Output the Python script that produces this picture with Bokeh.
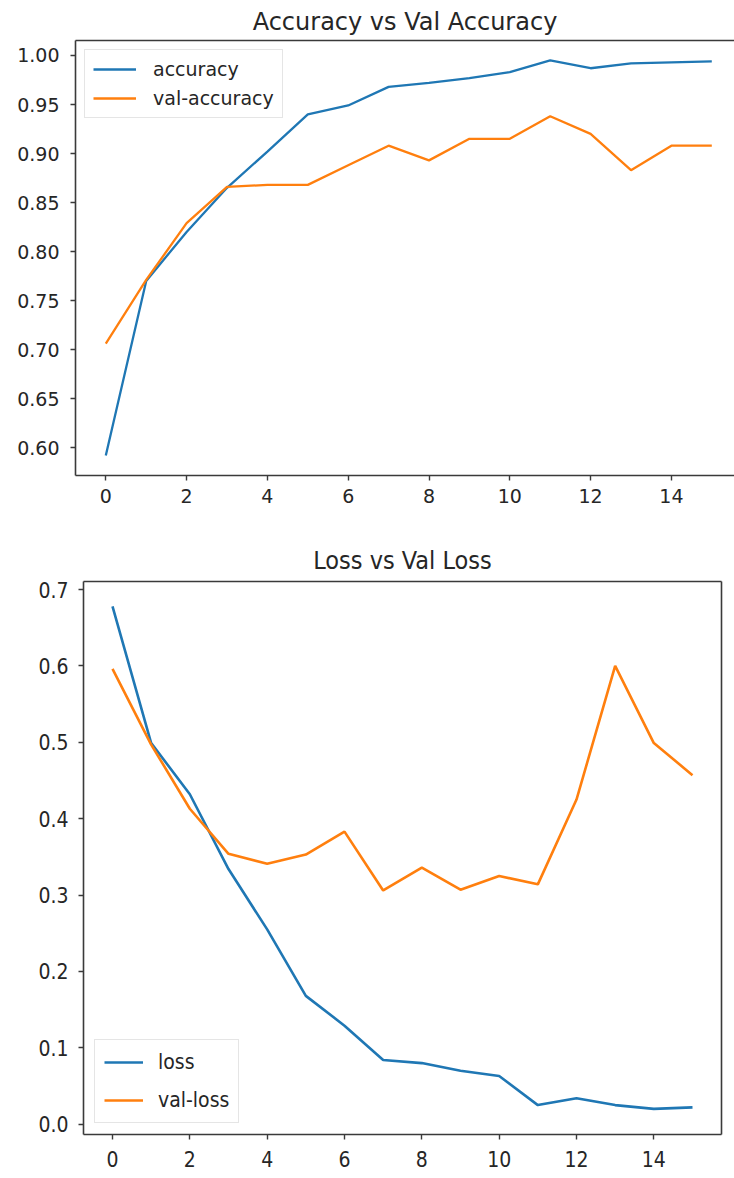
from bokeh.plotting import figure
from bokeh.models import (LinearAxis, FixedTicker, Range1d, Legend, LegendItem,
                          PrintfTickFormatter)
from bokeh.embed import file_html
from bokeh.resources import INLINE

# ---------------- data ----------------
epochs = list(range(16))
accuracy = [0.592, 0.770, 0.820, 0.865, 0.902, 0.940, 0.949, 0.968,
            0.972, 0.977, 0.983, 0.995, 0.987, 0.992, 0.993, 0.994]
val_accuracy = [0.706, 0.771, 0.829, 0.866, 0.868, 0.868, 0.888, 0.908,
                0.893, 0.915, 0.915, 0.938, 0.920, 0.883, 0.908, 0.908]
loss = [0.678, 0.499, 0.432, 0.334, 0.255, 0.168, 0.129, 0.084,
        0.080, 0.070, 0.063, 0.025, 0.034, 0.025, 0.020, 0.022]
val_loss = [0.596, 0.497, 0.413, 0.354, 0.341, 0.353, 0.383, 0.306,
            0.336, 0.307, 0.325, 0.314, 0.425, 0.600, 0.499, 0.457]

x_ticks = [0, 2, 4, 6, 8, 10, 12, 14]
acc_y_ticks = [0.60, 0.65, 0.70, 0.75, 0.80, 0.85, 0.90, 0.95, 1.00]
loss_y_ticks = [0.0, 0.1, 0.2, 0.3, 0.4, 0.5, 0.6, 0.7]

BLUE = "#1f77b4"
ORANGE = "#ff7f0e"
SPINE = "#3a3a3a"
TXT = "#262626"


def style_axis(ax, font, size, standoff):
    ax.axis_line_color = SPINE
    ax.axis_line_width = 1.6
    ax.major_tick_line_color = SPINE
    ax.major_tick_line_width = 1.4
    ax.major_tick_out = 5
    ax.major_tick_in = 0
    ax.minor_tick_line_color = None
    ax.major_label_text_font = font
    ax.major_label_text_font_size = size
    ax.major_label_text_color = TXT
    ax.major_label_standoff = standoff


def spine_only(p, side):
    ax = LinearAxis(ticker=FixedTicker(ticks=[]))
    ax.axis_line_color = SPINE
    ax.axis_line_width = 1.6
    ax.major_tick_line_color = None
    ax.minor_tick_line_color = None
    ax.major_label_text_font_size = "0px"
    ax.major_label_standoff = 0
    ax.axis_label_standoff = 0
    ax.major_tick_out = 0
    ax.major_tick_in = 0
    p.add_layout(ax, side)


# ---------------- top: accuracy ----------------
px_per_unit = 40.4
frame_w1 = 734 - 75
p1 = figure(width=734, height=530, output_backend="svg", toolbar_location=None,
            x_range=Range1d(-0.75, -0.75 + frame_w1 / px_per_unit),
            y_range=Range1d(0.5715, 1.0153),
            min_border=0,
            min_border_left=75, min_border_right=0, min_border_top=38,
            min_border_bottom=55)
p1.outline_line_color = None
p1.xgrid.visible = False
p1.ygrid.visible = False
p1.title.text = "Accuracy vs Val Accuracy"
p1.title.align = "center"
p1.title.text_font = "DejaVu Sans"
p1.title.text_font_size = "24px"
p1.title.text_font_style = "normal"
p1.title.text_color = TXT

p1.xaxis.ticker = FixedTicker(ticks=x_ticks)
p1.yaxis.ticker = FixedTicker(ticks=acc_y_ticks)
p1.yaxis.formatter = PrintfTickFormatter(format="%.2f")
style_axis(p1.xaxis[0], "DejaVu Sans", "19px", 8)
style_axis(p1.yaxis[0], "DejaVu Sans", "19px", 11)
spine_only(p1, "above")

r_acc = p1.line(epochs, accuracy, line_color=BLUE, line_width=2.3)
r_vacc = p1.line(epochs, val_accuracy, line_color=ORANGE, line_width=2.3)

leg1 = Legend(items=[LegendItem(label="accuracy", renderers=[r_acc]),
                     LegendItem(label="val-accuracy", renderers=[r_vacc])],
              location="top_left")
leg1.margin = 9
leg1.padding = 8
leg1.spacing = 7
leg1.glyph_width = 43
leg1.glyph_height = 22
leg1.label_height = 22
leg1.label_standoff = 17
leg1.label_text_font = "DejaVu Sans"
leg1.label_text_font_size = "19px"
leg1.label_text_color = TXT
leg1.border_line_color = "#cccccc"
leg1.border_line_width = 1
leg1.background_fill_alpha = 0.8
p1.add_layout(leg1, "center")

# ---------------- bottom: loss ----------------
p2 = figure(width=734, height=646, output_backend="svg", toolbar_location=None,
            x_range=Range1d(-0.75, 15.75),
            y_range=Range1d(-0.0135, 0.7105),
            min_border=0,
            min_border_left=83, min_border_right=13, min_border_top=51,
            min_border_bottom=42)
p2.outline_line_color = None
p2.xgrid.visible = False
p2.ygrid.visible = False
p2.title.text = "Loss vs Val Loss"
p2.title.align = "center"
p2.title.standoff = 14
p2.title.text_font = "DejaVu Sans Condensed"
p2.title.text_font_size = "25px"
p2.title.text_font_style = "normal"
p2.title.text_color = TXT

p2.xaxis.ticker = FixedTicker(ticks=x_ticks)
p2.yaxis.ticker = FixedTicker(ticks=loss_y_ticks)
p2.yaxis.formatter = PrintfTickFormatter(format="%.1f")
style_axis(p2.xaxis[0], "DejaVu Sans Condensed", "21px", 11)
style_axis(p2.yaxis[0], "DejaVu Sans Condensed", "21px", 10)
spine_only(p2, "above")
spine_only(p2, "right")

r_loss = p2.line(epochs, loss, line_color=BLUE, line_width=2.6)
r_vloss = p2.line(epochs, val_loss, line_color=ORANGE, line_width=2.6)

leg2 = Legend(items=[LegendItem(label="loss", renderers=[r_loss]),
                     LegendItem(label="val-loss", renderers=[r_vloss])],
              location="bottom_left")
leg2.margin = 11
leg2.padding = 9
leg2.spacing = 12
leg2.glyph_width = 39
leg2.glyph_height = 26
leg2.label_height = 26
leg2.label_standoff = 15
leg2.label_text_font = "DejaVu Sans Condensed"
leg2.label_text_font_size = "21px"
leg2.label_text_color = TXT
leg2.border_line_color = "#cccccc"
leg2.border_line_width = 1
leg2.background_fill_alpha = 0.8
p2.add_layout(leg2, "center")

open("out.html", "w").write(file_html([p1, p2], INLINE))
